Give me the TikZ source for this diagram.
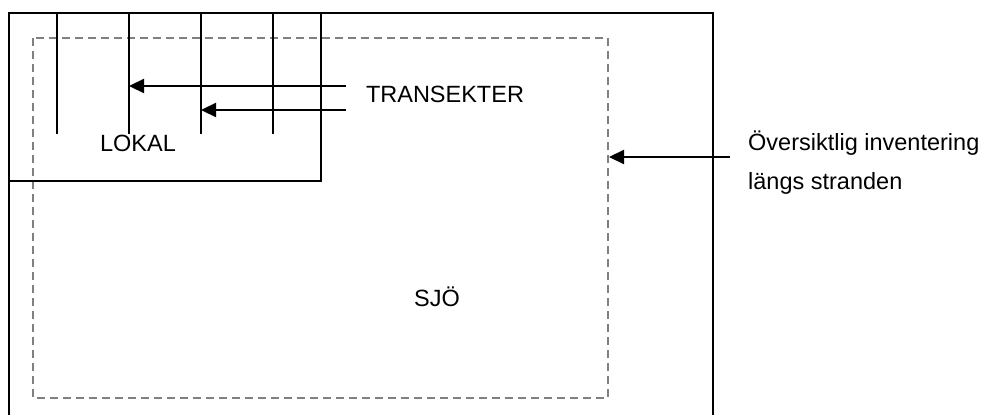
\documentclass[tikz,border=0pt]{standalone}
\usepackage{fontspec}
\setmainfont{Liberation Sans}
\usetikzlibrary{arrows.meta}
\definecolor{dashgray}{RGB}{128,128,128}
\tikzset{
  frame/.style={line width=2.2pt, black},
  thinframe/.style={line width=1.4pt, black},
  dashframe/.style={line width=2pt, dashgray, dash pattern=on 8pt off 5pt},
  transect/.style={line width=2.2pt, black},
  pointer/.style={line width=2.2pt, black, -{Triangle[length=15pt,width=14pt]}},
  lbl/.style={font=\fontsize{23.5pt}{28pt}\selectfont, inner sep=0pt},
}
\begin{document}
\begin{tikzpicture}[x=1pt,y=-1pt]
\useasboundingbox (0,0) rectangle (986,415);
% outer boundary (open at bottom)
\draw[frame] (9,416) -- (9,13) -- (713,13) -- (713,416);
% dashed inventory boundary
\draw[dashframe] (33,38) rectangle (608,398);
% LOKAL box
\draw[thinframe] (9,181) -- (321,181) -- (321,13);
% transects
\foreach \n/\x in {1/57,2/129,3/201,4/273}{
  \coordinate (t\n top) at (\x,13);
  \coordinate (t\n bot) at (\x,134);
  \draw[transect] (t\n top) -- (t\n bot);
}
\coordinate (t2) at (129,86);
\coordinate (t3) at (201,110);
\coordinate (a1) at (346,86);
\coordinate (a2) at (346,110);
\draw[pointer] (a1) -- (t2);
\draw[pointer] (a2) -- (t3);
% texts
\node[lbl] (transekter) at (445,94) {TRANSEKTER};
\node[lbl] (lokal) at (138,143) {LOKAL};
\node[lbl] (sjo) at (437,297) {SJÖ};
\node[lbl, anchor=west] (oversikt) at (748,143) {Översiktlig inventering};
\node[lbl, anchor=west] (langs) at (748,183) {längs stranden};
\coordinate (b1) at (730,157);
\coordinate (b2) at (609,157);
\draw[pointer] (b1) -- (b2);
\end{tikzpicture}
\end{document}
